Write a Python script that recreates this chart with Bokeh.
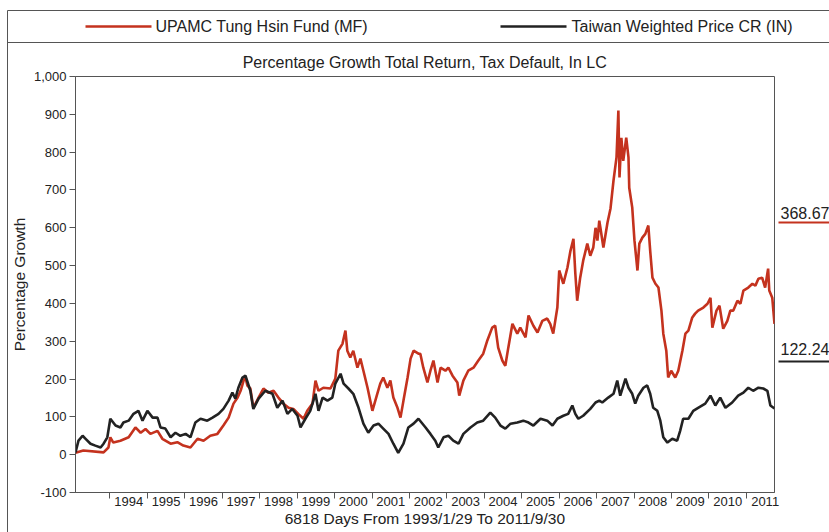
from bokeh.plotting import figure
from bokeh.models import (Range1d, FixedTicker, CustomJSTickFormatter, NumeralTickFormatter, Title)
from bokeh.core.properties import value
from bokeh.embed import file_html
from bokeh.resources import INLINE

# ---------------- data ----------------
fund_x = [1993.08, 1993.29, 1993.83, 1993.96, 1994.01, 1994.09, 1994.28, 1994.50, 1994.68, 1994.82,
          1994.95, 1995.08, 1995.27, 1995.40, 1995.62, 1995.80, 1995.96, 1996.15, 1996.34, 1996.50,
          1996.68, 1996.87, 1997.03, 1997.17, 1997.30, 1997.41, 1997.49, 1997.57, 1997.62, 1997.67,
          1997.75, 1997.83, 1997.97, 1998.10, 1998.23, 1998.37, 1998.50, 1998.63, 1998.77, 1998.90,
          1999.03, 1999.17, 1999.27, 1999.41, 1999.49, 1999.57, 1999.70, 1999.89, 2000.02, 2000.10,
          2000.21, 2000.29, 2000.34, 2000.42, 2000.50, 2000.61, 2000.69, 2000.77, 2000.88, 2001.01,
          2001.14, 2001.22, 2001.30, 2001.41, 2001.49, 2001.57, 2001.68, 2001.76, 2001.84, 2001.95,
          2002.03, 2002.11, 2002.24, 2002.29, 2002.37, 2002.48, 2002.56, 2002.64, 2002.75, 2002.83,
          2002.96, 2003.04, 2003.15, 2003.28, 2003.33, 2003.44, 2003.57, 2003.71, 2003.84, 2003.97,
          2004.08, 2004.21, 2004.29, 2004.37, 2004.48, 2004.56, 2004.64, 2004.75, 2004.88, 2004.96,
          2005.10, 2005.18, 2005.31, 2005.42, 2005.55, 2005.68, 2005.76, 2005.84, 2005.95, 2006.00,
          2006.11, 2006.22, 2006.30, 2006.38, 2006.43, 2006.48, 2006.56, 2006.64, 2006.75, 2006.83,
          2006.91, 2006.97, 2007.02, 2007.07, 2007.10, 2007.18, 2007.29, 2007.37, 2007.45, 2007.53,
          2007.58, 2007.61, 2007.66, 2007.71, 2007.79, 2007.85, 2007.87, 2007.95, 2008.01, 2008.09,
          2008.14, 2008.22, 2008.30, 2008.38, 2008.43, 2008.49, 2008.57, 2008.65, 2008.73, 2008.78,
          2008.86, 2008.91, 2008.99, 2009.10, 2009.18, 2009.29, 2009.37, 2009.45, 2009.55, 2009.63,
          2009.71, 2009.85, 2009.96, 2010.04, 2010.09, 2010.20, 2010.28, 2010.38, 2010.49, 2010.57,
          2010.65, 2010.76, 2010.84, 2010.92, 2011.05, 2011.16, 2011.24, 2011.32, 2011.42, 2011.50,
          2011.58, 2011.61, 2011.69, 2011.75]
fund_y = [5, 11, 6, 19, 46, 32, 37, 46, 72, 58,
          68, 55, 63, 42, 29, 33, 24, 19, 42, 37,
          50, 55, 77, 98, 135, 151, 169, 196, 204, 183,
          175, 124, 151, 175, 164, 169, 151, 135, 124, 121,
          108, 95, 116, 135, 196, 169, 177, 175, 201, 275,
          293, 328, 275, 257, 275, 230, 254, 222, 177, 116,
          161, 188, 204, 177, 196, 151, 124, 98, 143, 204,
          254, 275, 267, 267, 230, 191, 222, 249, 191, 230,
          222, 230, 209, 191, 156, 196, 222, 230, 249, 267,
          302, 336, 341, 283, 249, 235, 283, 346, 320, 336,
          310, 368, 341, 323, 354, 360, 346, 320, 389, 487,
          452, 495, 539, 571, 479, 407, 468, 513, 558, 526,
          548, 600, 566, 619, 600, 548, 614, 651, 725, 786,
          910, 733, 838, 777, 838, 786, 706, 654, 566, 487,
          558, 574, 584, 606, 539, 468, 452, 442, 381, 320,
          275, 204, 222, 204, 222, 275, 320, 328, 362, 373,
          381, 389, 399, 415, 336, 381, 394, 333, 354, 381,
          381, 407, 399, 434, 442, 452, 447, 465, 468, 442,
          492, 434, 415, 346]

index_x = [1993.08, 1993.16, 1993.27, 1993.35, 1993.48, 1993.61, 1993.75, 1993.83, 1993.93, 1994.01,
           1994.15, 1994.28, 1994.36, 1994.50, 1994.63, 1994.76, 1994.87, 1995.00, 1995.14, 1995.27,
           1995.35, 1995.48, 1995.62, 1995.75, 1995.88, 1996.02, 1996.15, 1996.28, 1996.42, 1996.60,
           1996.74, 1996.90, 1997.03, 1997.17, 1997.27, 1997.35, 1997.43, 1997.54, 1997.62, 1997.75,
           1997.83, 1997.97, 1998.15, 1998.34, 1998.47, 1998.61, 1998.74, 1998.87, 1999.01, 1999.09,
           1999.22, 1999.35, 1999.49, 1999.57, 1999.68, 1999.81, 1999.94, 2000.02, 2000.16, 2000.24,
           2000.37, 2000.50, 2000.64, 2000.77, 2000.90, 2001.04, 2001.17, 2001.30, 2001.44, 2001.57,
           2001.70, 2001.84, 2001.97, 2002.11, 2002.24, 2002.43, 2002.56, 2002.69, 2002.77, 2002.91,
           2003.04, 2003.17, 2003.31, 2003.44, 2003.63, 2003.81, 2003.97, 2004.16, 2004.29, 2004.43,
           2004.56, 2004.70, 2004.88, 2005.04, 2005.18, 2005.31, 2005.50, 2005.68, 2005.82, 2005.95,
           2006.11, 2006.24, 2006.35, 2006.43, 2006.51, 2006.64, 2006.83, 2006.97, 2007.07, 2007.15,
           2007.31, 2007.45, 2007.55, 2007.63, 2007.77, 2007.85, 2007.95, 2008.03, 2008.11, 2008.25,
           2008.35, 2008.43, 2008.51, 2008.62, 2008.70, 2008.78, 2008.89, 2009.02, 2009.15, 2009.23,
           2009.31, 2009.45, 2009.58, 2009.71, 2009.90, 2010.04, 2010.17, 2010.30, 2010.44, 2010.62,
           2010.78, 2010.92, 2011.05, 2011.18, 2011.32, 2011.45, 2011.56, 2011.64, 2011.75]
index_y = [6, 37, 50, 42, 29, 24, 19, 29, 46, 95,
           77, 72, 85, 90, 108, 116, 90, 116, 98, 98,
           72, 69, 46, 58, 50, 55, 46, 85, 95, 90,
           98, 108, 121, 143, 164, 148, 177, 204, 209, 169,
           121, 148, 169, 161, 124, 143, 108, 121, 103, 72,
           95, 116, 161, 116, 151, 143, 151, 188, 214, 188,
           175, 161, 124, 82, 58, 77, 82, 69, 55, 29,
           5, 29, 72, 82, 95, 72, 55, 37, 19, 46,
           50, 37, 29, 55, 72, 85, 90, 111, 98, 77,
           69, 82, 85, 90, 85, 77, 95, 90, 77, 95,
           103, 108, 130, 108, 95, 103, 121, 138, 143, 138,
           151, 161, 196, 156, 201, 177, 161, 135, 156, 177,
           183, 161, 124, 116, 90, 46, 32, 42, 37, 63,
           95, 95, 116, 124, 135, 156, 130, 151, 124, 138,
           156, 164, 177, 169, 177, 175, 169, 130, 122.24]

fund_name = "UPAMC Tung Hsin Fund (MF)"
index_name = "Taiwan Weighted Price CR (IN)"
fund_last = "368.67"
index_last = "122.24"
year_labels = list(range(1994, 2012))
y_ticks = list(range(-100, 1001, 100))

X0, X1 = 1993.08, 2011.75
Y0, Y1 = -100, 1000

RED = "#C4321E"
BLACK = "#222222"
GREY = "#555555"
TXT = "#222222"
FONT = "Liberation Sans"

# frame: page pixels x 75..774, y 76..492
FL, FT, FW, FH = 75, 76, 699, 416

p = figure(frame_width=FW, frame_height=FH, output_backend="svg", toolbar_location=None,
           x_range=Range1d(X0, X1), y_range=Range1d(Y0, Y1),
           min_border_left=FL, min_border_right=55, min_border_top=FT, min_border_bottom=40)
p.title.text = ""
p.grid.visible = False
p.outline_line_color = GREY
p.outline_line_width = 1
p.background_fill_color = "white"
p.border_fill_color = "white"

p.line(fund_x, fund_y, line_color=RED, line_width=2.6)
p.line(index_x, index_y, line_color=BLACK, line_width=2.6)

# x axis: labels centred in each year, small marks at year starts
xa = p.xaxis[0]
xa.ticker = FixedTicker(ticks=[y + 0.5 for y in year_labels], minor_ticks=year_labels)
xa.formatter = CustomJSTickFormatter(code="return String(Math.floor(tick));")
xa.major_tick_out = 0
xa.major_tick_in = 0
xa.minor_tick_out = 6
xa.minor_tick_in = 0
xa.minor_tick_line_color = GREY
xa.major_label_standoff = -2
xa.axis_label = "6818 Days From 1993/1/29 To 2011/9/30"
xa.axis_label_standoff = 1

ya = p.yaxis[0]
ya.ticker = FixedTicker(ticks=y_ticks)
ya.formatter = NumeralTickFormatter(format="0,0")
ya.major_tick_out = 6
ya.major_tick_in = 0
ya.minor_tick_line_color = None
ya.major_label_standoff = 3
ya.axis_label = "Percentage Growth"
ya.axis_label_standoff = 3

for ax in (xa, ya):
    ax.axis_line_color = GREY
    ax.major_tick_line_color = GREY
    ax.major_label_text_font = FONT
    ax.major_label_text_font_size = "13px"
    ax.major_label_text_color = TXT
    ax.axis_label_text_font = FONT
    ax.axis_label_text_font_size = "15.5px"
    ax.axis_label_text_font_style = "normal"
    ax.axis_label_text_color = TXT

p.add_layout(Title(text="Percentage Growth Total Return, Tax Default, In LC", align="center",
                   text_font=FONT, text_font_size="16px", text_font_style="normal",
                   text_color=TXT, standoff=12), "above")


# page-pixel helpers for the decorations drawn outside the frame
def xd(px):
    return X0 + (px - FL) * (X1 - X0) / FW


def yd(py):
    return Y1 - (py - FT) * (Y1 - Y0) / FH


# outer box and legend separator
p.segment(x0=[xd(7), xd(7), xd(7)], y0=[yd(10), yd(42), yd(10)],
          x1=[xd(900), xd(900), xd(7)], y1=[yd(10), yd(42), yd(600)],
          line_color=GREY, line_width=1, level="overlay")

# legend row
p.segment(x0=[xd(85), xd(500)], y0=[yd(26), yd(26)], x1=[xd(151), xd(566)], y1=[yd(26), yd(26)],
          line_color=[RED, BLACK], line_width=2.6, level="overlay")
p.text(x=[xd(155), xd(571)], y=[yd(26), yd(26)], text=[fund_name, index_name],
       text_font=value(FONT), text_font_size="16px", text_color=TXT,
       text_baseline="middle", text_align="left", level="overlay")

# end-value labels on the right
p.text(x=[xd(780), xd(780)], y=[yd(212), yd(348)], text=[fund_last, index_last],
       text_font=value(FONT), text_font_size="16px", text_color=TXT,
       text_baseline="middle", text_align="left", level="overlay")
p.segment(x0=[xd(778), xd(778)], y0=[yd(222), yd(361)], x1=[xd(900), xd(900)], y1=[yd(222), yd(361)],
          line_color=[RED, BLACK], line_width=2, level="overlay")

open("out.html", "w").write(file_html(p, INLINE))
